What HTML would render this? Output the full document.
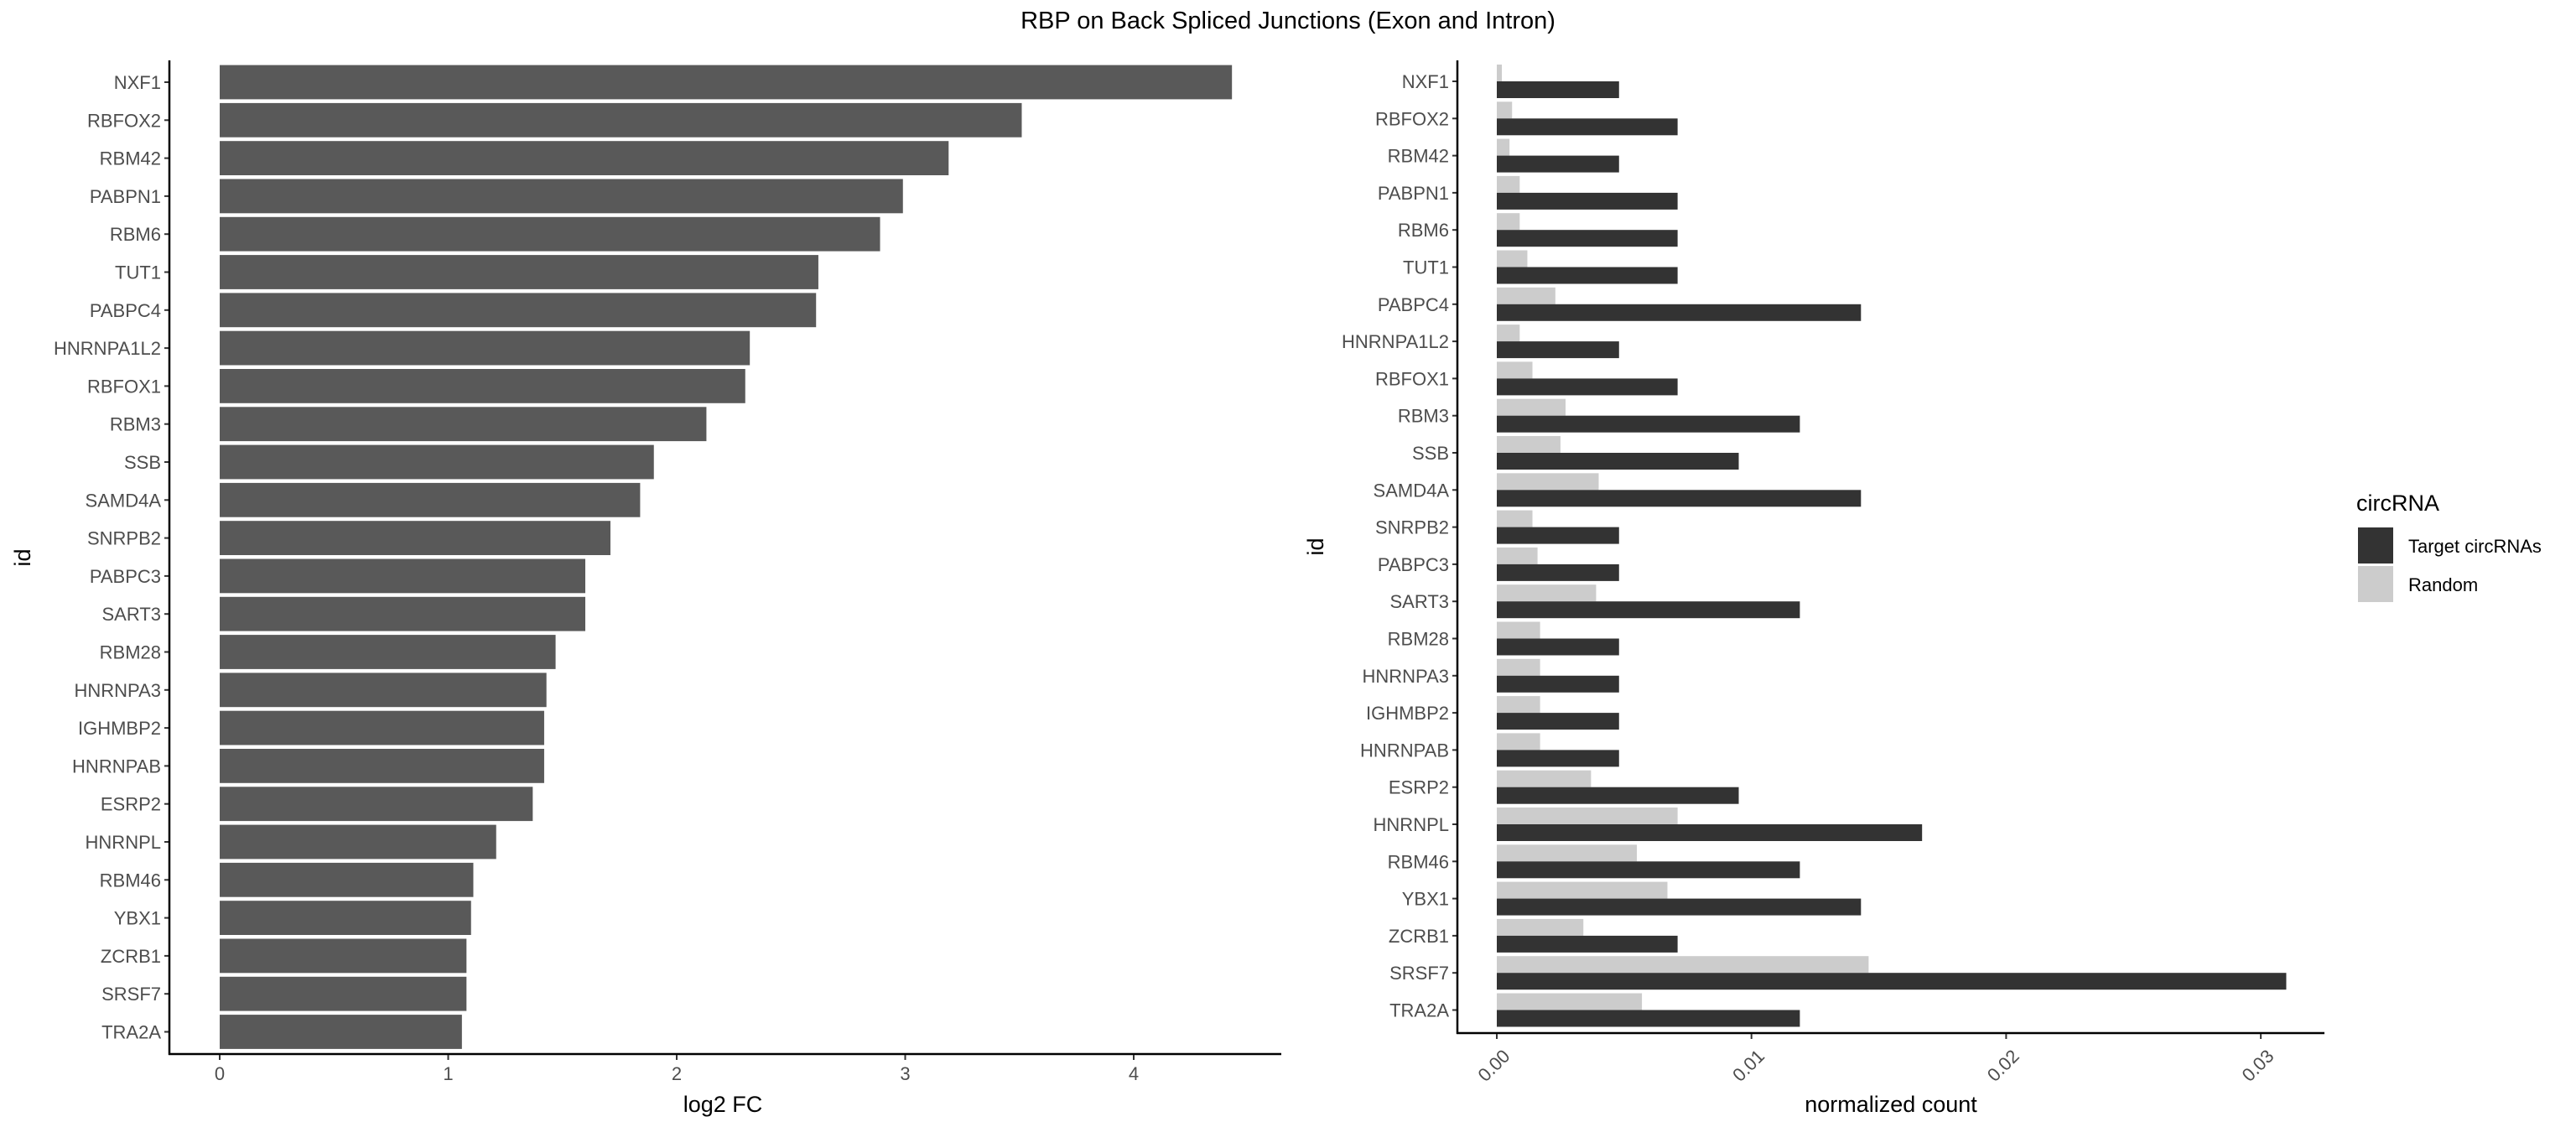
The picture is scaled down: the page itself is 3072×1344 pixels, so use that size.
<!DOCTYPE html>
<html><head><meta charset="utf-8"><style>
html,body{margin:0;padding:0;background:#fff;}
svg{display:block;font-family:"Liberation Sans",sans-serif;}
</style></head><body>
<svg id="c" width="3072" height="1344" viewBox="0 0 3072 1344">
<text x="1536" y="34" font-size="29" text-anchor="middle" fill="#000">RBP on Back Spliced Junctions (Exon and Intron)</text>
<g id="left"></g>
<g id="right"></g>
<g>
<text x="2810" y="609" font-size="27" fill="#000">circRNA</text>
<rect x="2812" y="629" width="42" height="43" fill="#333333"/>
<text x="2872" y="659" font-size="22" fill="#000">Target circRNAs</text>
<rect x="2812" y="675" width="42" height="43" fill="#cccccc"/>
<text x="2872" y="705" font-size="22" fill="#000">Random</text>
</g>
</svg>
<script>
const categories=["NXF1","RBFOX2","RBM42","PABPN1","RBM6","TUT1","PABPC4","HNRNPA1L2","RBFOX1","RBM3","SSB","SAMD4A","SNRPB2","PABPC3","SART3","RBM28","HNRNPA3","IGHMBP2","HNRNPAB","ESRP2","HNRNPL","RBM46","YBX1","ZCRB1","SRSF7","TRA2A"];
const log2fc=[4.43,3.51,3.19,2.99,2.89,2.62,2.61,2.32,2.30,2.13,1.90,1.84,1.71,1.60,1.60,1.47,1.43,1.42,1.42,1.37,1.21,1.11,1.10,1.08,1.08,1.06];
const targetCount=[0.0048,0.0071,0.0048,0.0071,0.0071,0.0071,0.0143,0.0048,0.0071,0.0119,0.0095,0.0143,0.0048,0.0048,0.0119,0.0048,0.0048,0.0048,0.0048,0.0095,0.0167,0.0119,0.0143,0.0071,0.0310,0.0119];
const randomCount=[0.0002,0.0006,0.0005,0.0009,0.0009,0.0012,0.0023,0.0009,0.0014,0.0027,0.0025,0.0040,0.0014,0.0016,0.0039,0.0017,0.0017,0.0017,0.0017,0.0037,0.0071,0.0055,0.0067,0.0034,0.0146,0.0057];
const leftTicks=[0,1,2,3,4];
const leftTickLabels=["0","1","2","3","4"];
const rightTicks=[0,0.01,0.02,0.03];
const rightTickLabels=["0.00","0.01","0.02","0.03"];
const NS="http://www.w3.org/2000/svg";
function mk(p,t,a){const e=document.createElementNS(NS,t);for(const k in a)e.setAttribute(k,a[k]);p.appendChild(e);return e;}
// left panel
const L=document.getElementById('left');
const lx=v=>262+v*272.5;
const ly=i=>98+i*45.3;
categories.forEach((c,i)=>{
 const b=mk(L,'rect',{x:lx(0),y:ly(i)-20.4,width:lx(log2fc[i])-lx(0),height:40.8,fill:'#595959'});
 
 
 const t=mk(L,'text',{x:192,y:ly(i)+8,'font-size':22,'text-anchor':'end',fill:'#4d4d4d'});t.textContent=c;
 
 
 mk(L,'line',{x1:196,x2:202,y1:ly(i),y2:ly(i),stroke:'#333','stroke-width':2});
});
mk(L,'line',{x1:202,x2:202,y1:72,y2:1258,stroke:'#000','stroke-width':2.5});
mk(L,'line',{x1:201,x2:1528,y1:1257,y2:1257,stroke:'#000','stroke-width':2.5});
leftTicks.forEach((v,i)=>{
 mk(L,'line',{x1:lx(v),x2:lx(v),y1:1258,y2:1264,stroke:'#333','stroke-width':2});
 const t=mk(L,'text',{x:lx(v),y:1288,'font-size':22,'text-anchor':'middle',fill:'#4d4d4d'});t.textContent=leftTickLabels[i];
 
 
});
let t1=mk(L,'text',{x:862,y:1326,'font-size':27,'text-anchor':'middle',fill:'#000'});t1.textContent='log2 FC';


let t2=mk(L,'text',{x:36,y:665,'font-size':27,'text-anchor':'middle',fill:'#000',transform:'rotate(-90 36 665)'});t2.textContent='id';


// right panel
const R=document.getElementById('right');
const rx=v=>1785+v*30370;
const ry=i=>97+i*44.3;
categories.forEach((c,i)=>{
 const a=mk(R,'rect',{x:rx(0),y:ry(i)-20,width:rx(randomCount[i])-rx(0),height:20,fill:'#cccccc'});
 
 
 const b=mk(R,'rect',{x:rx(0),y:ry(i),width:rx(targetCount[i])-rx(0),height:20,fill:'#333333'});
 
 
 const t=mk(R,'text',{x:1728,y:ry(i)+8,'font-size':22,'text-anchor':'end',fill:'#4d4d4d'});t.textContent=c;
 
 
 mk(R,'line',{x1:1732,x2:1738,y1:ry(i),y2:ry(i),stroke:'#333','stroke-width':2});
});
mk(R,'line',{x1:1738,x2:1738,y1:72,y2:1233,stroke:'#000','stroke-width':2.5});
mk(R,'line',{x1:1737,x2:2772,y1:1232,y2:1232,stroke:'#000','stroke-width':2.5});
rightTicks.forEach((v,i)=>{
 mk(R,'line',{x1:rx(v),x2:rx(v),y1:1233,y2:1239,stroke:'#333','stroke-width':2});
 const x=rx(v)+6,y=1250;
 const t=mk(R,'text',{x:x,y:y,'font-size':22,'text-anchor':'end',fill:'#4d4d4d',transform:'rotate(-45 '+x+' '+y+')',dy:'0.7em'});t.textContent=rightTickLabels[i];
 
 
});
let t3=mk(R,'text',{x:2255,y:1326,'font-size':27,'text-anchor':'middle',fill:'#000'});t3.textContent='normalized count';


let t4=mk(R,'text',{x:1578,y:652,'font-size':27,'text-anchor':'middle',fill:'#000',transform:'rotate(-90 1578 652)'});t4.textContent='id';


</script>
</body></html>
